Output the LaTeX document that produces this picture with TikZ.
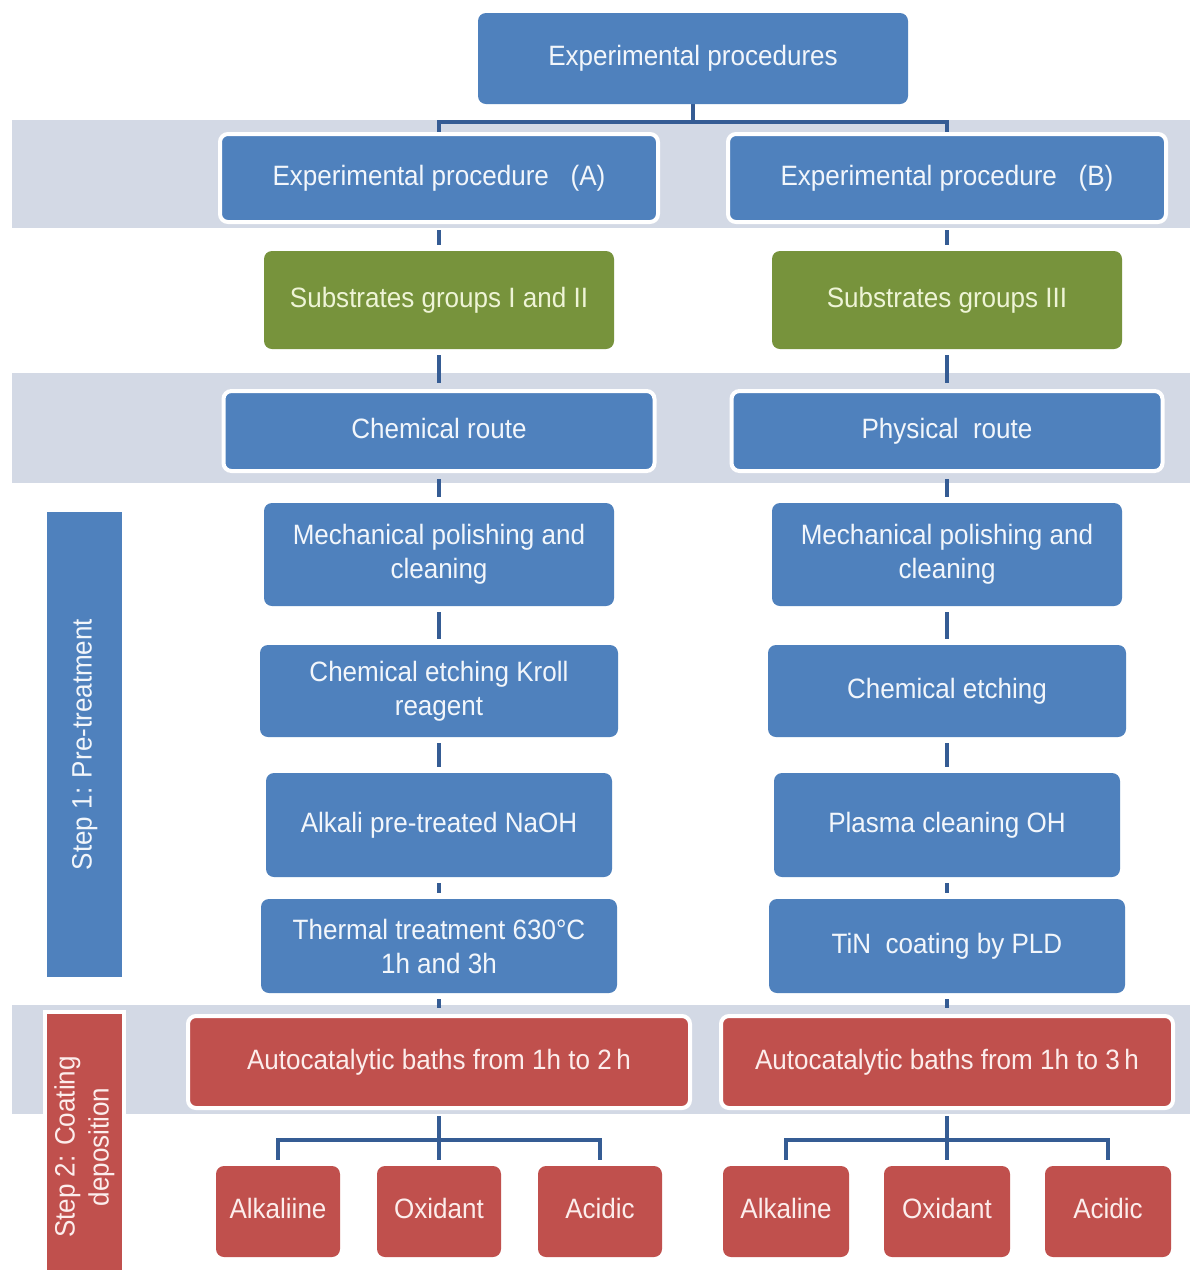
\documentclass[tikz,border=0pt]{standalone}
\usepackage{fontspec}
\setmainfont{Liberation Sans}[FakeStretch=0.93]
\pgfdeclarelayer{bandlayer}
\pgfdeclarelayer{edgelayer}
\pgfsetlayers{bandlayer,edgelayer,main}
\definecolor{boxblue}{HTML}{4F81BD}
\definecolor{boxgreen}{HTML}{77933C}
\definecolor{boxred}{HTML}{C0504D}
\definecolor{bandcol}{HTML}{D3D9E5}
\definecolor{linecol}{HTML}{355C94}
\definecolor{txtblue}{HTML}{F2F6FB}
\definecolor{txtgreen}{HTML}{EEF4D6}
\definecolor{txtred}{HTML}{FCEDEC}
\tikzset{
  base/.style={rounded corners=8pt, inner sep=0pt, align=center,
    font=\fontsize{28}{34}\selectfont},
  one/.style={text height=20pt, text depth=6pt},
  bluebox/.style={base, fill=boxblue, text=txtblue},
  greenbox/.style={base, fill=boxgreen, text=txtgreen},
  redbox/.style={base, fill=boxred, text=txtred},
  rim/.style={draw=white, line width=4pt},
  conn/.style={draw=linecol, line width=4.5pt},
  gap/.style={shorten <=6pt, shorten >=6pt},
  band/.style={fill=bandcol},
  sz/.style 2 args={minimum width=#1, minimum height=#2}
}
\begin{document}
\begin{tikzpicture}[x=1pt,y=-1pt]
\useasboundingbox (0,0) rectangle (1195,1270);
\begin{pgfonlayer}{bandlayer}
\fill[white] (0,0) rectangle (1195,1270);
\fill[band] (12,120) rectangle (1190,228);
\fill[band] (12,373) rectangle (1190,483);
\fill[band] (12,1005) rectangle (1190,1114);
\end{pgfonlayer}

% top
\node[bluebox, one, sz={430pt}{91pt}] (top) at (693,58.5) {Experimental procedures};

% row: procedures
\node[bluebox, rim, one, sz={438pt}{88pt}] (pA) at (439,178) {Experimental procedure\ \ \ (A)};
\node[bluebox, rim, one, sz={438pt}{88pt}] (pB) at (947,178) {Experimental procedure\ \ \ (B)};

% substrates
\node[greenbox, one, sz={350pt}{98pt}] (sA) at (439,300) {Substrates groups I and II};
\node[greenbox, one, sz={350pt}{98pt}] (sB) at (947,300) {Substrates groups III};

% routes
\node[bluebox, rim, one, sz={431pt}{80pt}] (cA) at (439,431) {Chemical route};
\node[bluebox, rim, one, sz={431pt}{80pt}] (cB) at (947,431) {Physical\ \ route};

% pre-treatment steps
\node[bluebox, sz={350pt}{103pt}] (mA) at (439,554.5) {Mechanical polishing and\\cleaning};
\node[bluebox, sz={350pt}{103pt}] (mB) at (947,554.5) {Mechanical polishing and\\cleaning};
\node[bluebox, sz={358pt}{92pt}] (eA) at (439,691) {Chemical etching Kroll\\reagent};
\node[bluebox, one, sz={358pt}{92pt}] (eB) at (947,691) {Chemical etching};
\node[bluebox, one, sz={346pt}{104pt}] (aA) at (439,825) {Alkali pre-treated\ NaOH};
\node[bluebox, one, sz={346pt}{104pt}] (aB) at (947,825) {Plasma cleaning OH};
\node[bluebox, sz={356pt}{94pt}] (tA) at (439,946) {Thermal treatment 630°C\\1h and\ 3h};
\node[bluebox, one, sz={356pt}{94pt}] (tB) at (947,946) {TiN\ \ coating by PLD};

% baths
\node[redbox, rim, one, sz={502pt}{92pt}] (bA) at (439,1062) {Autocatalytic baths from 1h to 2\,h};
\node[redbox, rim, one, sz={452pt}{92pt}] (bB) at (947,1062) {Autocatalytic baths from 1h to 3\,h};

% bath types
\node[redbox, one, sz={124pt}{91pt}] (k1) at (278,1211.5) {Alkaliine};
\node[redbox, one, sz={124pt}{91pt}] (o1) at (439,1211.5) {Oxidant};
\node[redbox, one, sz={124pt}{91pt}] (c1) at (600,1211.5) {Acidic};
\node[redbox, one, sz={126pt}{91pt}] (k2) at (786,1211.5) {Alkaline};
\node[redbox, one, sz={126pt}{91pt}] (o2) at (947,1211.5) {Oxidant};
\node[redbox, one, sz={126pt}{91pt}] (c2) at (1108,1211.5) {Acidic};

% side labels
\node[base, one, rounded corners=0pt, fill=boxblue, text=txtblue, sz={465pt}{75pt}, rotate=90] (st1) at (84.5,744.5) {Step 1: Pre-treatment};
\node[base, rounded corners=0pt, fill=boxred, text=txtred, rim, sz={270pt}{79pt}, rotate=90] (st2) at (84.5,1147) {Step 2: Coating\\deposition};

\begin{pgfonlayer}{edgelayer}
\draw[conn] (top.south) -- ++(0,18) -| (pA.north);
\draw[conn] (top.south) -- ++(0,18) -| (pB.north);
\draw[conn, gap] (pA.south) -- (sA.north);
\draw[conn, gap] (pB.south) -- (sB.north);
\draw[conn, gap] (sA.south) -- (cA.north);
\draw[conn, gap] (sB.south) -- (cB.north);
\draw[conn, gap] (cA.south) -- (mA.north);
\draw[conn, gap] (cB.south) -- (mB.north);
\draw[conn, gap] (mA.south) -- (eA.north);
\draw[conn, gap] (mB.south) -- (eB.north);
\draw[conn, gap] (eA.south) -- (aA.north);
\draw[conn, gap] (eB.south) -- (aB.north);
\draw[conn, gap] (aA.south) -- (tA.north);
\draw[conn, gap] (aB.south) -- (tB.north);
\draw[conn, gap] (tA.south) -- (bA.north);
\draw[conn, gap] (tB.south) -- (bB.north);
\draw[conn, gap] (bA.south) -- ++(0,30) -| (k1.north);
\draw[conn, gap] (bA.south) -- ++(0,30) -| (c1.north);
\draw[conn, gap] (bA.south) -- (o1.north);
\draw[conn, gap] (bB.south) -- ++(0,30) -| (k2.north);
\draw[conn, gap] (bB.south) -- ++(0,30) -| (c2.north);
\draw[conn, gap] (bB.south) -- (o2.north);
\end{pgfonlayer}
\end{tikzpicture}
\end{document}
